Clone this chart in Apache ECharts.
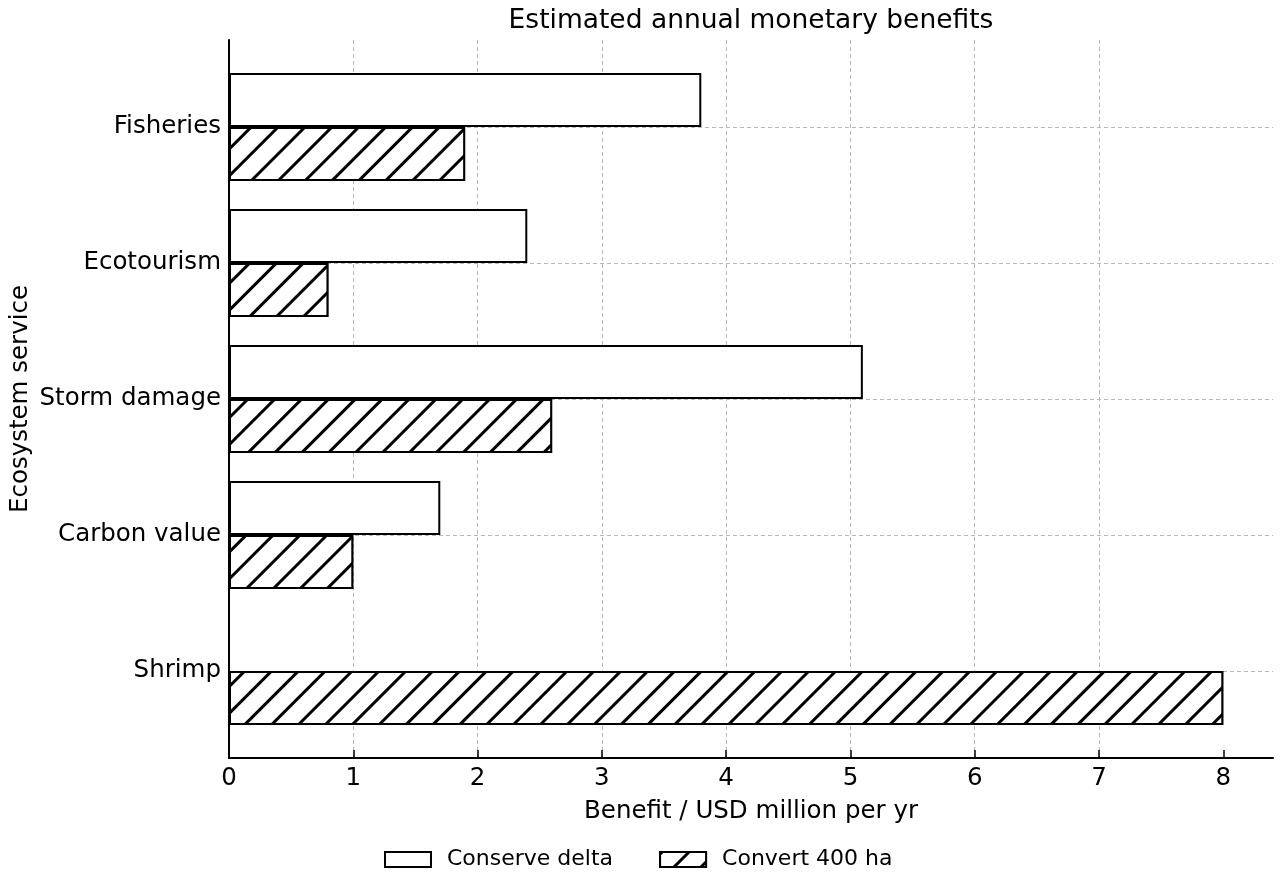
<!DOCTYPE html>
<html>
<head>
<meta charset="utf-8">
<script src="https://cdn.jsdelivr.net/npm/echarts@6/dist/echarts.min.js"></script>
<style>
  html, body { margin: 0; padding: 0; background: #fff; }
  #chart { width: 1280px; height: 880px; }
</style>
</head>
<body>
<div id="chart"></div>
<script>
// categories top to bottom
var services = ['Fisheries', 'Ecotourism', 'Storm damage', 'Carbon value', 'Shrimp'];
var conserveDelta = [3.8, 2.4, 5.1, 1.7, 0];
var convert400 = [1.9, 0.8, 2.6, 1.0, 8.0];
var xTicks = [0, 1, 2, 3, 4, 5, 6, 7, 8];

var FONT = 'DejaVu Sans';
var gridColor = '#b8b8b8';

var chart = echarts.init(document.getElementById('chart'));

var option = {
    backgroundColor: '#fff',
    animation: false,
    textStyle: { fontFamily: FONT, color: '#000' },
    title: {
        text: 'Estimated annual monetary benefits',
        left: 751,
        textAlign: 'center',
        top: 8,
        padding: 0,
        textStyle: { fontFamily: FONT, fontSize: 26.5, fontWeight: 'normal', color: '#000' }
    },
    legend: {
        left: 379,
        top: 843.5,
        itemWidth: 46,
        itemHeight: 15,
        itemGap: 46,
        icon: 'rect',
        textStyle: { fontFamily: FONT, fontSize: 22, color: '#000', padding: [0, 0, 0, 11] },
        data: ['Conserve delta', 'Convert 400 ha']
    },
    grid: [
        // bars: category centres run from first to last
        { left: 229, right: 7, top: 127, bottom: 209, outerBoundsMode: 'none', containLabel: false },
        // frame: axis lines, x ticks, vertical grid
        { left: 229, right: 7, top: 40, bottom: 122, outerBoundsMode: 'none', containLabel: false }
    ],
    xAxis: [
        { gridIndex: 0, type: 'value', min: 0, max: 8.4, show: false },
        {
            gridIndex: 1, type: 'value', min: 0, max: 8.4, interval: 1,
            name: 'Benefit / USD million per yr',
            nameLocation: 'middle',
            nameGap: 41,
            nameTextStyle: { fontFamily: FONT, fontSize: 24.5, color: '#000' },
            axisLine: { onZero: false, lineStyle: { color: '#000', width: 2 } },
            axisTick: { inside: true, length: 8, customValues: xTicks, lineStyle: { color: '#000', width: 1.5 } },
            axisLabel: { customValues: xTicks, margin: 8, fontFamily: FONT, fontSize: 24.5, color: '#000' },
            splitLine: { show: true, showMaxLine: false, lineStyle: { color: gridColor, width: 1, type: [4, 3] } }
        }
    ],
    yAxis: [
        {
            gridIndex: 0, type: 'category', data: services, inverse: true, boundaryGap: false,
            axisLine: { show: false },
            axisTick: { show: false },
            axisLabel: { interval: 0, margin: 8, padding: [4, 0, 0, 0], fontFamily: FONT, fontSize: 24.5, color: '#000' },
            splitLine: { show: true, interval: 0, lineStyle: { color: gridColor, width: 1, type: [4, 3] } }
        },
        {
            gridIndex: 1, type: 'value', min: 0, max: 1,
            name: 'Ecosystem service',
            nameLocation: 'middle',
            nameGap: 196,
            nameTextStyle: { fontFamily: FONT, fontSize: 24.5, color: '#000' },
            axisLine: { show: true, lineStyle: { color: '#000', width: 2 } },
            axisTick: { show: false },
            axisLabel: { show: false },
            splitLine: { show: false }
        }
    ],
    series: [
        {
            name: 'Conserve delta',
            type: 'bar',
            xAxisIndex: 0, yAxisIndex: 0,
            data: conserveDelta,
            barWidth: 54,
            barGap: '0%',
            clip: false,
            itemStyle: { color: '#fff', borderColor: '#000', borderWidth: 2 }
        },
        {
            name: 'Convert 400 ha',
            type: 'bar',
            xAxisIndex: 0, yAxisIndex: 0,
            data: convert400,
            barWidth: 54,
            barGap: '0%',
            clip: false,
            itemStyle: {
                color: '#fff', borderColor: '#000', borderWidth: 2,
                decal: {
                    symbol: 'rect',
                    symbolSize: 1,
                    color: '#000',
                    backgroundColor: '#fff',
                    dashArrayX: [1, 0],
                    dashArrayY: [3, 16],
                    rotation: -Math.PI / 4
                }
            }
        }
    ]
};

chart.setOption(option);
</script>
</body>
</html>
